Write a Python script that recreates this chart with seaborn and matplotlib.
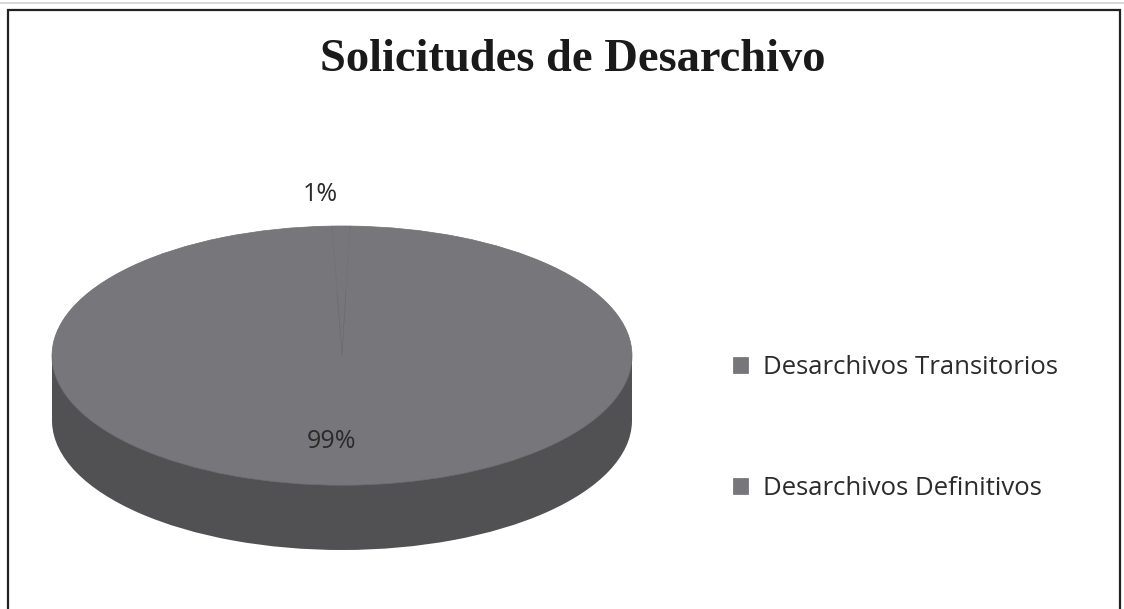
import matplotlib
matplotlib.use("Agg")
import matplotlib.pyplot as plt
import seaborn as sns
from matplotlib.patches import Rectangle
import numpy as np

# Data
categories = ['Desarchivos Transitorios', 'Desarchivos Definitivos']
percentages = [1, 99]

TOP_COLOR = '#77777b'
SIDE_COLOR = '#515153'
TEXT_COLOR = '#2b2b2b'

sns.set_style('white')
plt.rcParams['font.family'] = ['Open Sans', 'DejaVu Sans']

W, H = 1124, 609
fig = plt.figure(figsize=(W / 100, H / 100), dpi=100)
fig.patch.set_facecolor('white')

# outer frame of the chart
fig.patches.append(Rectangle((8 / W, -0.01), 1112 / W, (H - 10) / H + 0.01,
                             transform=fig.transFigure, fill=False,
                             edgecolor='#222222', linewidth=1.6))
fig.patches.append(Rectangle((0, (H - 4) / H), 1, 2 / H, transform=fig.transFigure,
                             color='#d8d8d8', linewidth=0))

# axes squashed vertically to give the tilted (3D-like) pie
depth = 0.5
ax = fig.add_axes([52 / W, (H - 550) / H, 580 / W, 324 / H])

# side of the cylinder: shifted pie plus the band between both
ax.pie(percentages, startangle=92, counterclock=False, radius=1,
       center=(0, -depth), colors=[SIDE_COLOR] * len(percentages),
       wedgeprops=dict(linewidth=0), frame=True)
ax.fill_between([-1, 1], -depth, 0, color=SIDE_COLOR, linewidth=0)

# top face
wedges, _ = ax.pie(percentages, startangle=92, counterclock=False, radius=1,
                   colors=[TOP_COLOR] * len(percentages),
                   wedgeprops=dict(linewidth=0.5, edgecolor='#6f6f73'), frame=True)
ax.set_aspect('auto')
ax.set_xlim(-1, 1)
ax.set_ylim(-1 - depth, 1)
ax.axis('off')

# percentage labels
label_r = [1.24, 0.66]
for w, p, r in zip(wedges, percentages, label_r):
    mid = np.deg2rad((w.theta1 + w.theta2) / 2)
    ax.text(r * np.cos(mid) - (0.07 if p < 5 else 0.04), r * np.sin(mid), f'{p}%',
            ha='center', va='center', fontsize=18, color=TEXT_COLOR)

# title
fig.text(573 / W, (H - 60) / H, 'Solicitudes de Desarchivo', ha='center', va='center',
         fontsize=33.5, fontweight='bold', family=['Liberation Serif', 'DejaVu Serif'],
         color='#1a1a1a')

# legend
fig.legend(wedges, categories, loc='center left',
           bbox_to_anchor=(733 / W, (H - 428) / H), frameon=False,
           fontsize=18.5, labelspacing=3.75, handlelength=0.6, handleheight=0.6,
           handletextpad=0.55, borderpad=0, borderaxespad=0,
           labelcolor=TEXT_COLOR)

fig.savefig('out.png', dpi=100, facecolor='white')
